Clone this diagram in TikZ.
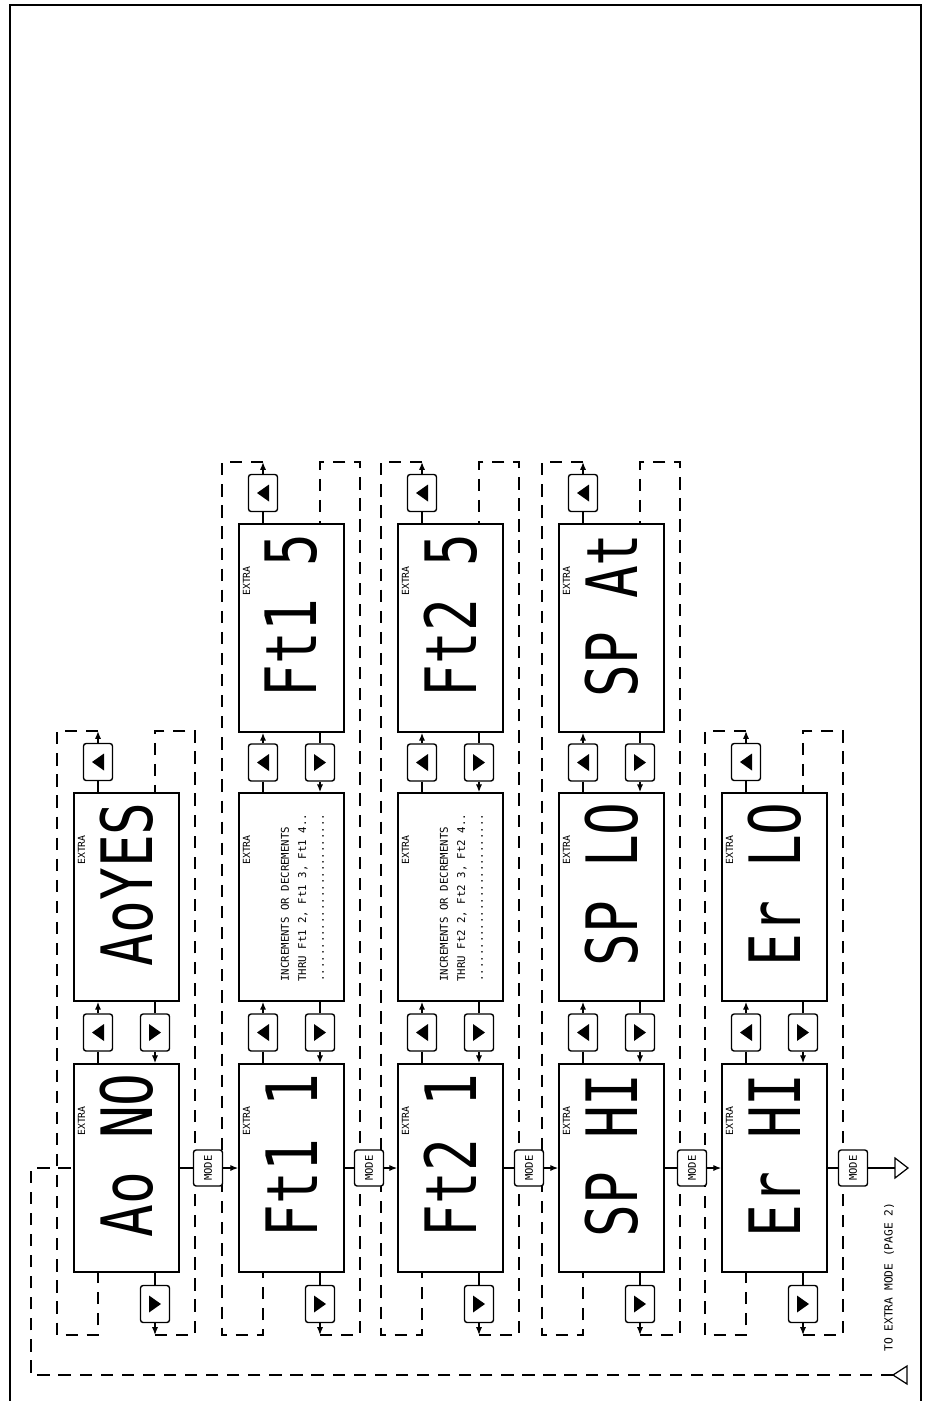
\documentclass[tikz,border=0pt]{standalone}
\usepackage{graphicx}
\usepackage{fontspec}
\setmainfont{Liberation Sans}
\newfontfamily\monof{DejaVu Sans Mono}
\usetikzlibrary{arrows.meta}
\tikzset{
 x={(0.02cm,0)}, y={(0,-0.02cm)},
 dsp/.style={draw, line width=0.9pt, minimum width=2.1cm, minimum height=4.16cm, inner sep=0pt},
 seg/.style={rotate=90, anchor=east, inner sep=0pt, font=\monof\fontsize{31}{31}\selectfont},
 xtra/.style={rotate=90, inner sep=0pt, font=\monof\fontsize{5.6}{6}\selectfont},
 inc/.style={rotate=90, anchor=west, inner sep=0pt, font=\monof\fontsize{6.1}{7}\selectfont},
 lbl/.style={rotate=90, anchor=west, inner sep=0pt, font=\monof\fontsize{6.4}{7}\selectfont},
 btn/.style={draw, rounded corners=1.5pt, line width=0.8pt, fill=white, minimum width=0.58cm, minimum height=0.74cm, inner sep=0pt},
 modebtn/.style={draw, rounded corners=1.5pt, line width=0.8pt, fill=white, minimum width=0.58cm, minimum height=0.72cm, inner sep=0pt, font=\monof\fontsize{6}{6}\selectfont},
 lnk/.style={line width=0.7pt},
 arr/.style={line width=0.7pt, -{Latex[length=4.5pt,width=3.5pt]}},
 dsh/.style={line width=0.9pt, dash pattern=on 7pt off 5pt},
}
\newcommand\upglyph[1]{\fill ([shift={(-6,0)}]#1.center) -- ([shift={(6,-8.5)}]#1.center) -- ([shift={(6,8.5)}]#1.center) -- cycle;}
\newcommand\dnglyph[1]{\fill ([shift={(6,0)}]#1.center) -- ([shift={(-6,-8.5)}]#1.center) -- ([shift={(-6,8.5)}]#1.center) -- cycle;}
% display with seven-segment text: name, L, T, text
\newcommand\dispseg[4]{%
 \node[dsp] (#1) at (#2+52.5,#3+104) {};
 \node[xtra] (#1x) at (#2+7.5,#3+57) {EXTRA};
 \node[seg] (#1t) at (#2+52.5,#3+9) {\scalebox{1}[1.3]{#4}};
}
% display with increments text: name, L, T, number
\newcommand\dispinc[4]{%
 \node[dsp] (#1) at (#2+52.5,#3+104) {};
 \node[xtra] (#1x) at (#2+7.5,#3+57) {EXTRA};
 \node[inc] (#1a) at (#2+46,#3+189) {INCREMENTS OR DECREMENTS};
 \node[inc] (#1b) at (#2+64,#3+189) {THRU Ft#4 2, Ft#4 3, Ft#4 4..};
 \node[inc] (#1c) at (#2+84,#3+189) {..........................};
}
% pair of buttons between two displays: id, L, y, lower display, upper display
\newcommand\btnpair[5]{%
 \node[btn] (#1u) at (#2+24,#3) {}; \upglyph{#1u}
 \node[btn] (#1d) at (#2+81,#3) {}; \dnglyph{#1d}
 \draw[lnk] (#1u.south) -- (#1u.south |- #4.north);
 \draw[arr] (#1u.north) -- (#1u.north |- #5.south);
 \draw[lnk] (#1d.north) -- (#1d.north |- #5.south);
 \draw[arr] (#1d.south) -- (#1d.south |- #4.north);
}
% wrap-around loops of a column: id, L, loop top y, top display, bottom display
\newcommand\loops[5]{%
 \coordinate (#1la) at (#2+24,#3);
 \coordinate (#1lb) at (#2-17,#3);
 \coordinate (#1lc) at (#2-17,1335);
 \coordinate (#1le) at (#2+24,1335);
 \draw[dsh] (#1la) -- (#1lb) -- (#1lc) -- (#1le) -- (#1le |- #5.south);
 \node[btn] (#1tu) at (#2+24,#3+31) {}; \upglyph{#1tu}
 \draw[lnk] (#1tu.south) -- (#1tu.south |- #4.north);
 \draw[arr] (#1tu.north) -- (#1la);
 \coordinate (#1lf) at (#2+81,1335);
 \coordinate (#1lg) at (#2+121,1335);
 \coordinate (#1lh) at (#2+121,#3);
 \coordinate (#1li) at (#2+81,#3);
 \draw[dsh] (#1lf) -- (#1lg) -- (#1lh) -- (#1li) -- (#1li |- #4.north);
 \node[btn] (#1bd) at (#2+81,1304) {}; \dnglyph{#1bd}
 \draw[lnk] (#1bd.north) -- (#1bd.north |- #5.south);
 \draw[arr] (#1bd.south) -- (#1lf);
}
\begin{document}
\begin{tikzpicture}
\useasboundingbox (0,0) rectangle (924,1401);
\draw[line width=0.9pt] (10,1401) -- (10,5) -- (921,5) -- (921,1401);

% displays
\dispseg{P1}{74}{1064}{Ao NO}
\dispseg{P2}{74}{793}{AoYES}
\dispseg{Q1}{239}{1064}{Ft1 1}
\dispinc{Q2}{239}{793}{1}
\dispseg{Q3}{239}{524}{Ft1 5}
\dispseg{R1}{398}{1064}{Ft2 1}
\dispinc{R2}{398}{793}{2}
\dispseg{R3}{398}{524}{Ft2 5}
\dispseg{S1}{559}{1064}{SP HI}
\dispseg{S2}{559}{793}{SP LO}
\dispseg{S3}{559}{524}{SP At}
\dispseg{T1}{722}{1064}{Er HI}
\dispseg{T2}{722}{793}{Er LO}

% buttons between displays
\btnpair{Pb1}{74}{1032.5}{P1}{P2}
\btnpair{Qb1}{239}{1032.5}{Q1}{Q2}
\btnpair{Qb2}{239}{762.5}{Q2}{Q3}
\btnpair{Rb1}{398}{1032.5}{R1}{R2}
\btnpair{Rb2}{398}{762.5}{R2}{R3}
\btnpair{Sb1}{559}{1032.5}{S1}{S2}
\btnpair{Sb2}{559}{762.5}{S2}{S3}
\btnpair{Tb1}{722}{1032.5}{T1}{T2}

% wrap-around loops
\loops{P}{74}{731}{P2}{P1}
\loops{Q}{239}{462}{Q3}{Q1}
\loops{R}{398}{462}{R3}{R1}
\loops{S}{559}{462}{S3}{S1}
\loops{T}{722}{731}{T2}{T1}

% return path from page 2
\coordinate (o2) at (893,1375);
\coordinate (g1) at (31,1375);
\coordinate (g2) at (31,1168);
\draw[dsh] (o2) -- (g1) -- (g2) -- (P1.west);
\draw[lnk] (o2) -- ([shift={(14,-9)}]o2) -- ([shift={(14,9)}]o2) -- cycle;

% MODE buttons
\node[modebtn] (m1) at (208,1168) {\rotatebox{90}{MODE}};
\node[modebtn] (m2) at (369,1168) {\rotatebox{90}{MODE}};
\node[modebtn] (m3) at (529,1168) {\rotatebox{90}{MODE}};
\node[modebtn] (m4) at (692,1168) {\rotatebox{90}{MODE}};
\node[modebtn] (m5) at (853,1168) {\rotatebox{90}{MODE}};
\draw[lnk] (P1.east) -- (m1.west);
\draw[arr] (m1.east) -- (Q1.west);
\draw[lnk] (Q1.east) -- (m2.west);
\draw[arr] (m2.east) -- (R1.west);
\draw[lnk] (R1.east) -- (m3.west);
\draw[arr] (m3.east) -- (S1.west);
\draw[lnk] (S1.east) -- (m4.west);
\draw[arr] (m4.east) -- (T1.west);
\draw[lnk] (T1.east) -- (m5.west);
\coordinate (o1) at (895,1168);
\draw[lnk] (m5.east) -- (o1);
\draw[lnk] ([shift={(0,-10)}]o1) -- ([shift={(13,0)}]o1) -- ([shift={(0,10)}]o1) -- cycle;
\node[lbl] (tolbl) at (889,1352) {TO EXTRA MODE (PAGE 2)};
\end{tikzpicture}
\end{document}
